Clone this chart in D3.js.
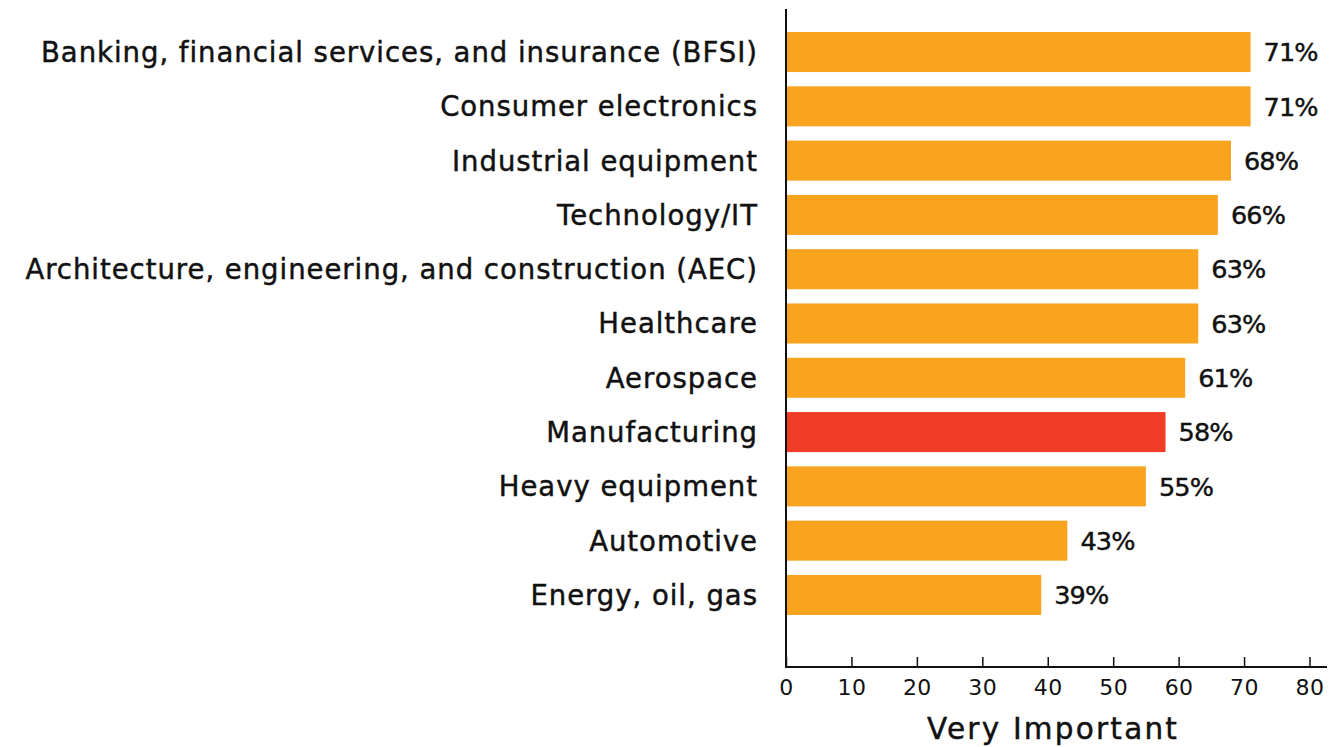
<!DOCTYPE html>
<html>
<head>
<meta charset="utf-8">
<script src="https://cdn.jsdelivr.net/npm/d3@7"></script>
<style>
  html, body { margin: 0; padding: 0; background: #fff; }
  svg { display: block; }
  text { font-family: "DejaVu Sans", "Noto Sans", sans-serif; fill: #111; }
  .heavy { stroke: #111; stroke-width: 0.45px; }
</style>
</head>
<body>
<svg id="chart" width="1340" height="747"></svg>
<script>
// Share of respondents rating the factor "Very Important", by industry
const categories = [
  "Banking, financial services, and insurance (BFSI)",
  "Consumer electronics",
  "Industrial equipment",
  "Technology/IT",
  "Architecture, engineering, and construction (AEC)",
  "Healthcare",
  "Aerospace",
  "Manufacturing",
  "Heavy equipment",
  "Automotive",
  "Energy, oil, gas"
];
const values = [71, 71, 68, 66, 63, 63, 61, 58, 55, 43, 39];
const highlighted = ["Manufacturing"];
const xTicks = [0, 10, 20, 30, 40, 50, 60, 70, 80];
const axisTitle = "Very Important";

const ORANGE = "#F9A31E";
const RED = "#EF3D26";

const svg = d3.select("#chart");
const x0 = 786, x1 = 1309.5, axisEnd = 1327;
const axisY = 667, axisTop = 9;

const x = d3.scaleLinear().domain([0, 80]).range([x0, x1]);
const y = d3.scaleBand().domain(categories).range([24.9, 622.1])
  .paddingInner(0.263).paddingOuter(0.1315);

const data = categories.map((c, i) => ({ cat: c, val: values[i] }));

// adjust a text group's tracking so a reference string spans the given width
function track(sel, refNode, width) {
  const n = refNode.getNumberOfChars();
  const w = refNode.getComputedTextLength();
  const ls = (width - w) / Math.max(1, n - 1);
  sel.style("letter-spacing", ls + "px");
  return ls;
}

// bars
svg.append("g").selectAll("rect").data(data).join("rect")
  .attr("x", x(0))
  .attr("y", d => y(d.cat))
  .attr("width", d => x(d.val) - x(0))
  .attr("height", y.bandwidth())
  .attr("fill", d => highlighted.includes(d.cat) ? RED : ORANGE);

// value labels
const valLabels = svg.append("g").selectAll("text").data(data).join("text")
  .attr("class", "heavy")
  .attr("x", d => x(d.val) + 13)
  .attr("y", d => y(d.cat) + y.bandwidth() / 2)
  .attr("dy", "0.36em")
  .style("font-size", "25.5px")
  .text(d => d.val + "%");
track(valLabels, valLabels.node(), 55);

// category labels
const catLabels = svg.append("g").selectAll("text").data(data).join("text")
  .attr("class", "heavy")
  .attr("x", 757)
  .attr("y", d => y(d.cat) + y.bandwidth() / 2)
  .attr("dy", "0.36em")
  .attr("text-anchor", "end")
  .style("font-size", "27.5px")
  .text(d => d.cat);
const ls = track(catLabels, catLabels.node(), 716);
// trailing spacing shifts end-anchored text; pull it back
catLabels.attr("dx", ls);

// x axis with inward ticks
const xAxis = d3.axisBottom(x).tickValues(xTicks).tickSize(0).tickPadding(0);
const gx = svg.append("g").attr("transform", `translate(0,${axisY})`).call(xAxis);
gx.select(".domain").remove();
gx.selectAll(".tick line").attr("y1", 0).attr("y2", -10)
  .attr("stroke", "#111").attr("stroke-width", 1.5);
gx.selectAll(".tick text")
  .attr("y", 28)
  .attr("dy", 0)
  .style("font-family", "'DejaVu Sans', sans-serif")
  .style("font-size", "22px")
  .style("letter-spacing", "0.5px")
  .style("fill", "#111");

// axis lines
svg.append("line").attr("x1", x0).attr("x2", axisEnd)
  .attr("y1", axisY).attr("y2", axisY)
  .attr("stroke", "#111").attr("stroke-width", 2);
svg.append("line").attr("x1", x0).attr("x2", x0)
  .attr("y1", axisTop).attr("y2", axisY + 1)
  .attr("stroke", "#111").attr("stroke-width", 2);

// axis title
const title = svg.append("text")
  .attr("class", "heavy")
  .attr("x", 1053)
  .attr("y", 739)
  .attr("text-anchor", "middle")
  .style("font-size", "29.5px")
  .text(axisTitle);
track(title, title.node(), 250);
</script>
</body>
</html>
